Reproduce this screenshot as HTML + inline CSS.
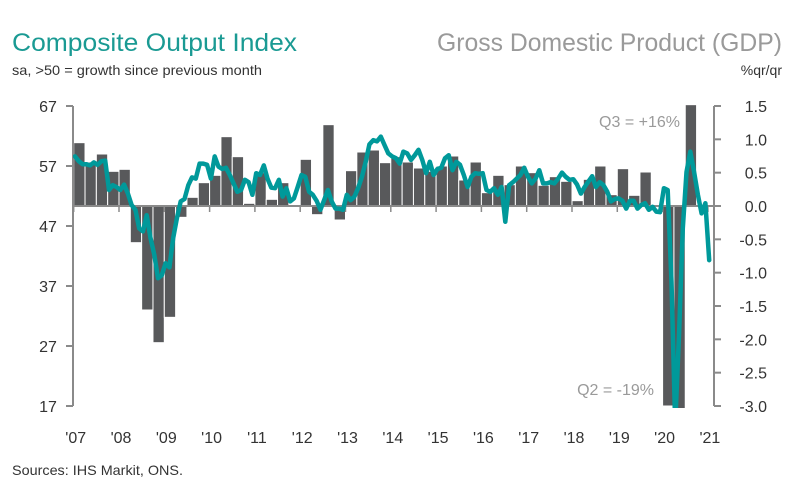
<!DOCTYPE html>
<html><head><meta charset="utf-8"><style>
body{margin:0;background:#fff;}
svg text{font-family:"Liberation Sans",sans-serif;}
</style></head><body>
<svg width="792" height="490" viewBox="0 0 792 490">
<text x="12" y="51" font-size="25" textLength="285" lengthAdjust="spacingAndGlyphs" fill="#1a9a93">Composite Output Index</text>
<text x="782" y="51" font-size="25" textLength="345" lengthAdjust="spacingAndGlyphs" fill="#9a9a9a" text-anchor="end">Gross Domestic Product (GDP)</text>
<text x="12" y="75" font-size="14" textLength="250" lengthAdjust="spacingAndGlyphs" fill="#333">sa, &gt;50 = growth since previous month</text>
<text x="782" y="75" font-size="14" fill="#333" text-anchor="end">%qr/qr</text>
<text x="12" y="475" font-size="14" textLength="171" lengthAdjust="spacingAndGlyphs" fill="#333">Sources: IHS Markit, ONS.</text>
<defs><clipPath id="pc"><rect x="73" y="104" width="641" height="304"/></clipPath></defs>
<g id="bars" clip-path="url(#pc)"></g>
<g id="axes"></g>
<path id="pmi" fill="none" stroke="#00999a" stroke-width="4.5" stroke-linejoin="round" stroke-linecap="round" clip-path="url(#pc)"/>
<text x="680" y="127" font-size="16" fill="#9a9a9a" text-anchor="end">Q3 = +16%</text>
<text x="654" y="395" font-size="16" fill="#9a9a9a" text-anchor="end">Q2 = -19%</text>
</svg>
<script>
const gdpStartYear = 2007;
const gdpValues = [0.95,0.66,0.78,0.52, 0.55,-0.55,-1.56,-2.05, -1.67,-0.17,0.13,0.35, 0.46,1.04,0.74,0.04, 0.5,0.1,0.35,0.0, 0.7,-0.13,1.22,-0.21, 0.53,0.81,0.84,0.65, 0.74,0.66,0.57,0.52, 0.6,0.75,0.39,0.66, 0.2,0.46,0.32,0.6, 0.5,0.31,0.44,0.37, 0.08,0.4,0.6,0.17, 0.56,0.16,0.51,0.02, -3.0,-19.0,16.0];
const pmiValues = [58.6,57.8,57.3,57.3,57.1,57.6,57.2,57.8,57.9,53.0,53.8,53.5,
53.0,53.9,52.4,50.5,49.7,46.6,46.1,48.8,45.0,42.2,38.3,38.8,
40.8,40.1,45.0,48.3,51.1,51.5,53.8,55.1,54.9,57.4,57.4,57.2,
54.9,58.6,56.9,56.5,56.7,55.5,54.1,52.7,53.0,54.7,54.3,52.2,
55.8,55.5,57.1,54.9,53.4,53.3,54.7,51.9,53.3,51.1,51.6,53.5,
55.5,55.2,52.7,52.2,51.2,49.7,51.3,53.0,51.1,49.9,49.9,49.7,
52.2,51.3,51.9,53.3,55.2,57.7,60.6,61.3,61.1,61.9,60.5,59.1,
58.6,58.3,57.4,59.4,59.1,58.0,58.8,59.7,58.0,55.8,57.7,55.5,
56.5,56.7,58.3,58.8,56.3,57.7,57.2,55.5,53.5,55.2,55.8,55.7,
55.8,53.0,52.7,53.3,52.2,53.5,47.7,53.8,54.3,54.9,55.5,56.7,
55.2,54.1,54.9,56.3,54.1,54.1,54.3,54.1,54.9,55.9,55.2,54.7,
54.8,53.9,52.4,53.5,54.4,55.3,53.5,54.3,53.8,52.7,51.1,51.5,
51.6,51.2,49.9,51.2,51.2,49.9,50.5,50.8,49.7,50.2,49.4,49.3,
53.3,53.0,37.7,13.8,28.8,46.6,56.0,59.4,56.0,52.2,49.1,50.8,
41.3];
const leftTicks = [67,57,47,37,27,17];
const rightTicks = ["1.5","1.0","0.5","0.0","-0.5","-1.0","-1.5","-2.0","-2.5","-3.0"];
const yearLabels = ["'07","'08","'09","'10","'11","'12","'13","'14","'15","'16","'17","'18","'19","'20","'21"];

const NS="http://www.w3.org/2000/svg";
const X0=73.7, PXY=45.3, TOP=106, BOT=406;
const xYear = y => X0 + (y-gdpStartYear)*PXY;
const yL = v => TOP + (67-v)*(BOT-TOP)/50;
const yR = v => TOP + (1.5-v)*(BOT-TOP)/4.5;
function mk(tag, attrs, parent){const e=document.createElementNS(NS,tag);for(const k in attrs)e.setAttribute(k,attrs[k]);parent.appendChild(e);return e;}
const bars=document.getElementById('bars'), axes=document.getElementById('axes');
gdpValues.forEach((v,i)=>{
  const x0=xYear(gdpStartYear+i/4), x1=xYear(gdpStartYear+(i+1)/4);
  const vc=Math.max(-3.05,Math.min(1.52,v));
  const y0=yR(0), y1=yR(vc);
  const r=mk('rect',{x:x0,y:Math.min(y0,y1),width:x1-x0,height:Math.abs(y1-y0),fill:'#58595b',stroke:'#fff','stroke-width':1},bars);
  
  
});
const g='#8a8a8a';
let l=mk('line',{x1:73,y1:TOP,x2:73,y2:BOT,stroke:g,'stroke-width':2},axes);


l=mk('line',{x1:714,y1:TOP,x2:714,y2:BOT,stroke:g,'stroke-width':2},axes);


l=mk('line',{x1:73,y1:yR(0),x2:714,y2:yR(0),stroke:g,'stroke-width':2},axes);


leftTicks.forEach(v=>{
  mk('line',{x1:66,y1:yL(v),x2:73,y2:yL(v),stroke:g,'stroke-width':2},axes);
  const t=mk('text',{x:48,y:yL(v)+6,'font-size':16,fill:'#333','text-anchor':'middle'},axes);
  t.textContent=v;
  
  
});
rightTicks.forEach(s=>{
  const v=parseFloat(s);
  mk('line',{x1:714,y1:yR(v),x2:721,y2:yR(v),stroke:g,'stroke-width':2},axes);
  const t=mk('text',{x:767,y:yR(v)+6,'font-size':16,fill:'#333','text-anchor':'end'},axes);
  t.textContent=s;
  
  
});
yearLabels.forEach((s,i)=>{
  const x=xYear(gdpStartYear+i);
  mk('line',{x1:x,y1:yR(0),x2:x,y2:yR(0)+6,stroke:g,'stroke-width':1.5},axes);
  const t=mk('text',{x:x+2,y:443,'font-size':16,fill:'#333','text-anchor':'middle'},axes);
  t.textContent=s;
  
  
});
const p=document.getElementById('pmi');
p.setAttribute('d',pmiValues.map((v,i)=>(i?'L':'M')+(xYear(gdpStartYear+i/12)+1.3).toFixed(1)+','+yL(v).toFixed(1)).join(''));


</script>
</body></html>
